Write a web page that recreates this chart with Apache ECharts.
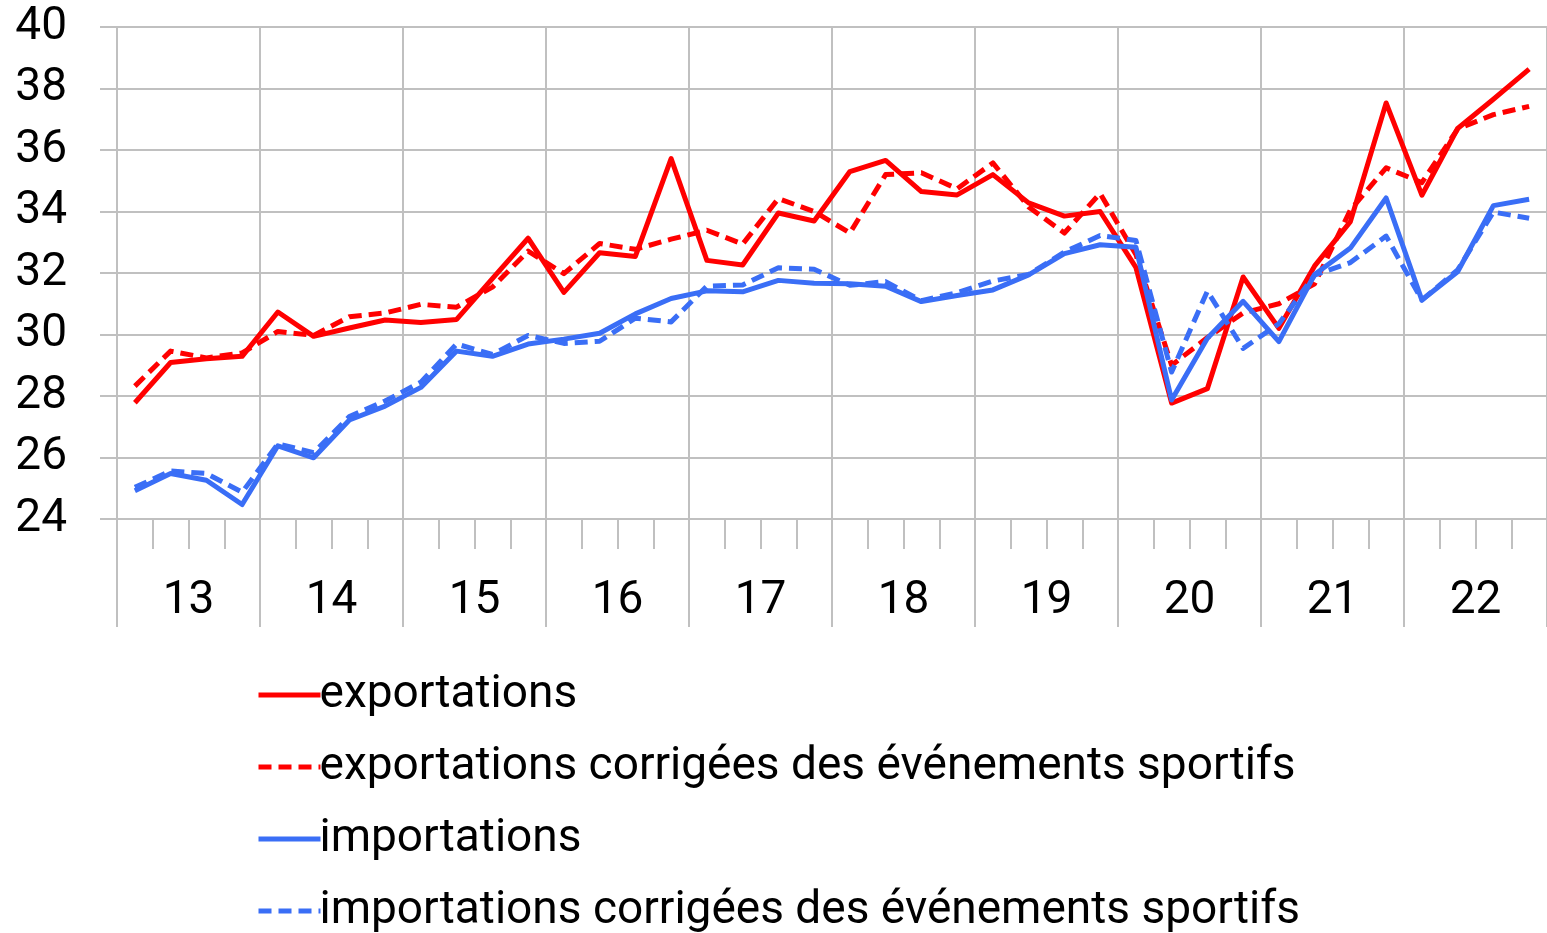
<!DOCTYPE html>
<html>
<head>
<meta charset="utf-8">
<script src="https://cdn.jsdelivr.net/npm/echarts@6/dist/echarts.min.js"></script>
<style>
html,body{margin:0;padding:0;background:#fff;}
#chart{width:1547px;height:933px;}
</style>
</head>
<body>
<div id="chart"></div>
<script>
// Quarterly data 2013Q1 .. 2022Q4
const years = ['13','14','15','16','17','18','19','20','21','22'];
const quarters = [];
years.forEach(y => { for (let q = 1; q <= 4; q++) quarters.push(y + 'T' + q); });

const exportations = [27.78, 29.09, 29.21, 29.29, 30.73, 29.94, 30.21, 30.47, 30.39, 30.49,
  31.82, 33.13, 31.37, 32.66, 32.54, 35.72, 32.41, 32.26, 33.95, 33.69,
  35.30, 35.66, 34.65, 34.54, 35.20, 34.28, 33.85, 34.00, 32.18, 27.77,
  28.24, 31.87, 30.20, 32.23, 33.67, 37.53, 34.53, 36.70, 37.65, 38.63];
const exportationsCorr = [28.32, 29.46, 29.24, 29.40, 30.10, 29.97, 30.58, 30.70, 30.98, 30.89,
  31.54, 32.71, 31.98, 32.96, 32.77, 33.10, 33.39, 32.94, 34.42, 34.00,
  33.30, 35.20, 35.26, 34.74, 35.58, 34.15, 33.30, 34.59, 32.60, 29.00,
  29.90, 30.70, 31.00, 31.65, 34.05, 35.42, 34.94, 36.68, 37.15, 37.42];
const importations = [24.92, 25.48, 25.26, 24.47, 26.38, 25.99, 27.22, 27.67, 28.28, 29.46,
  29.29, 29.69, 29.85, 30.04, 30.67, 31.17, 31.42, 31.39, 31.76, 31.67,
  31.65, 31.57, 31.07, 31.27, 31.45, 31.94, 32.63, 32.92, 32.84, 27.87,
  29.88, 31.08, 29.77, 31.95, 32.81, 34.44, 31.12, 32.04, 34.19, 34.40];
const importationsCorr = [25.03, 25.56, 25.48, 24.87, 26.44, 26.16, 27.33, 27.84, 28.45, 29.69,
  29.35, 29.97, 29.71, 29.78, 30.53, 30.41, 31.57, 31.61, 32.17, 32.12,
  31.60, 31.72, 31.10, 31.36, 31.74, 31.95, 32.68, 33.22, 33.06, 28.78,
  31.41, 29.55, 30.35, 31.93, 32.34, 33.20, 31.12, 32.10, 33.98, 33.78];

const names = ['exportations',
  'exportations corrigées des événements sportifs',
  'importations',
  'importations corrigées des événements sportifs'];

const FONT = 'Roboto, "Open Sans", "Noto Sans", sans-serif';
const RED = '#ff0000', BLUE = '#3a6ef6', GRID = '#c0c0c0';

const chart = echarts.init(document.getElementById('chart'));
function mk(name, data, color, dashed) {
  return {
    name, type: 'line', data, symbol: 'none', showSymbol: false,
    xAxisIndex: 0, yAxisIndex: 0,
    lineStyle: { color, width: 5, type: dashed ? [13, 7] : 'solid', join: 'round', cap: 'butt' },
    itemStyle: { color },
    emphasis: { disabled: true },
    animation: false
  };
}
chart.setOption({
  animation: false,
  backgroundColor: '#fff',
  grid: { left: 117, right: -2, top: 27, bottom: 414, containLabel: false },
  xAxis: [
    {
      type: 'category', data: quarters, boundaryGap: true, position: 'bottom',
      axisLine: { show: true, lineStyle: { color: GRID, width: 2 } },
      axisTick: { show: true, interval: 0, length: 30, lineStyle: { color: GRID, width: 2 } },
      axisLabel: { show: false },
      splitLine: { show: false }
    },
    {
      type: 'category', data: years, boundaryGap: true, position: 'bottom',
      axisLine: { show: false },
      axisTick: { show: true, interval: 0, length: 108, lineStyle: { color: GRID, width: 2 } },
      axisLabel: { show: true, interval: 0, margin: 59, color: '#000', fontSize: 46, fontFamily: FONT },
      splitLine: { show: true, interval: 0, lineStyle: { color: GRID, width: 2 } }
    }
  ],
  yAxis: {
    type: 'value', min: 24, max: 40, interval: 2,
    axisLine: { show: false },
    axisTick: { show: true, length: 17, lineStyle: { color: GRID, width: 2 } },
    axisLabel: { color: '#000', fontSize: 46, fontFamily: FONT, margin: 50, padding: [5, 0, 0, 0] },
    splitLine: { show: true, lineStyle: { color: GRID, width: 2 } }
  },
  legend: {
    orient: 'vertical', left: 251, top: 665, height: 290,
    itemWidth: 62, itemHeight: 20, itemGap: 22,
    textStyle: { color: '#000', fontSize: 46, fontFamily: FONT, lineHeight: 50, padding: [0, 0, 0, -6] },
    itemStyle: { color: 'rgba(0,0,0,0)', borderWidth: 0, opacity: 0 },
    lineStyle: { width: 5 },
    data: names,
    selectedMode: false
  },
  series: [
    mk(names[0], exportations, RED, false),
    mk(names[1], exportationsCorr, RED, true),
    mk(names[2], importations, BLUE, false),
    mk(names[3], importationsCorr, BLUE, true)
  ]
});
</script>
</body>
</html>
